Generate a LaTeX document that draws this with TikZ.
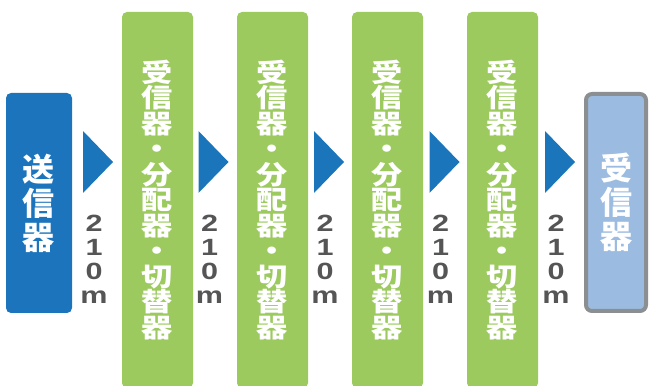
\documentclass[tikz,border=0pt]{standalone}
\usepackage{fontspec}
\setmainfont{Liberation Sans}
\newfontfamily\cjk{Noto Sans CJK JP}
\newfontfamily\cjkwide[FakeStretch=1.2]{Noto Sans CJK JP}
\newfontfamily\numfont[FakeStretch=1.3]{Liberation Sans}
\definecolor{txblue}{HTML}{1C75BC}
\definecolor{arrowblue}{HTML}{1B75BB}
\definecolor{relaygreen}{HTML}{9CCA5F}
\definecolor{rxblue}{HTML}{9BBCE0}
\definecolor{rxgray}{HTML}{8C8F91}
\definecolor{lengthgray}{HTML}{555555}
\begin{document}
\begin{tikzpicture}[x=1pt, y=1pt,
    box/.style={rounded corners=5pt, inner sep=0pt, text=white, align=center},
    lengthlabel/.style={text=lengthgray, align=center, inner sep=0pt,
        font=\numfont\bfseries\fontsize{23.5}{24}\selectfont}]
        \useasboundingbox (0,0) rectangle (649,386);
        \clip (0,0) rectangle (649,386);
        % Transmitter
        \node[box, fill=txblue, minimum width=66pt, minimum height=220pt,
            font=\cjk\bfseries\fontsize{32}{34}\selectfont] (tx) at (39,183) {送\\信\\器};
        % Receiver / splitter / switch stages
        \foreach \i in {1,...,4} {
            \node[box, fill=relaygreen, minimum width=71pt, minimum height=376pt,
                font=\cjkwide\bfseries\fontsize{26}{25.5}\selectfont]
                (relay\i) at (42.5+115*\i,186) {受\\信\\器\\・\\分\\配\\器\\・\\切\\替\\器};
        }
        % Receiver
        \node[box, fill=rxblue, draw=rxgray, line width=4pt, rounded corners=6pt,
            minimum width=60pt, minimum height=217pt,
            font=\cjk\bfseries\fontsize{32}{34}\selectfont] (rx) at (616,183.5) {受\\信\\器};
        % Arrows and cable lengths
        \foreach \i in {0,...,4} {
            \fill[arrowblue] (83+115.5*\i,255) -- ++(30,-31) -- ++(-30,-31) -- cycle;
            \node[lengthlabel] (len\i) at (94+115.5*\i,127) {2\\1\\0\\m};
        }
    \end{tikzpicture}
\end{document}
